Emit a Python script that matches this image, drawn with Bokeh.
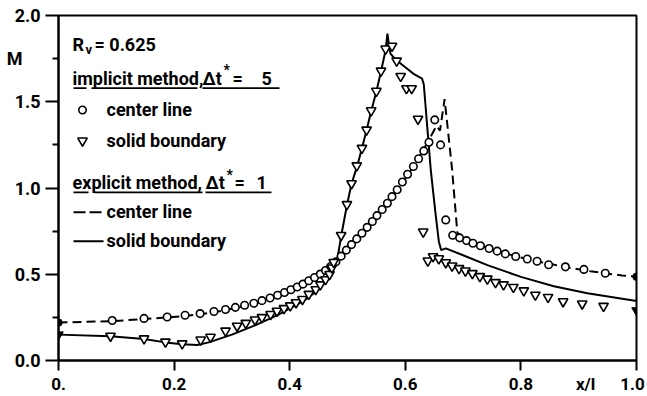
from bokeh.plotting import figure
from bokeh.models import Range1d, FixedTicker, Label, LinearAxis
from bokeh.embed import file_html
from bokeh.resources import INLINE

# ---------------- data ----------------
# implicit method, center line (circles)
ic_x = [0.093, 0.148, 0.188, 0.219, 0.245, 0.269, 0.289, 0.306, 0.322, 0.338, 0.352, 0.366,
        0.379, 0.391, 0.402, 0.413, 0.423, 0.433, 0.443, 0.453, 0.462, 0.471, 0.480, 0.489,
        0.498, 0.507, 0.516, 0.525, 0.534, 0.543, 0.551, 0.560, 0.569, 0.577, 0.586, 0.595,
        0.604, 0.614, 0.623, 0.632, 0.641, 0.651, 0.661, 0.670, 0.682, 0.694, 0.706, 0.717,
        0.730, 0.745, 0.759, 0.773, 0.791, 0.811, 0.828, 0.848, 0.877, 0.909, 0.946]
ic_y = [0.232, 0.244, 0.252, 0.262, 0.272, 0.284, 0.296, 0.308, 0.320, 0.332, 0.347, 0.362,
        0.378, 0.394, 0.410, 0.426, 0.443, 0.462, 0.481, 0.501, 0.522, 0.545, 0.572, 0.605,
        0.640, 0.672, 0.705, 0.738, 0.772, 0.806, 0.840, 0.875, 0.912, 0.950, 0.990, 1.035,
        1.080, 1.125, 1.170, 1.215, 1.265, 1.395, 1.250, 0.815, 0.726, 0.711, 0.695, 0.680,
        0.665, 0.649, 0.634, 0.618, 0.603, 0.588, 0.575, 0.555, 0.543, 0.528, 0.506]

# implicit method, solid boundary (triangles)
is_x = [0.090, 0.148, 0.185, 0.214, 0.246, 0.263, 0.289, 0.309, 0.324, 0.340, 0.352, 0.367,
        0.378, 0.390, 0.401, 0.411, 0.422, 0.433, 0.445, 0.453, 0.462, 0.469, 0.473, 0.476,
        0.489, 0.499, 0.507, 0.516, 0.525, 0.533, 0.541, 0.550, 0.558, 0.566, 0.577, 0.585,
        0.592, 0.602, 0.611, 0.622, 0.631, 0.639, 0.648, 0.658, 0.670, 0.681, 0.693, 0.704,
        0.716, 0.729, 0.742, 0.756, 0.770, 0.787, 0.805, 0.825, 0.847, 0.873, 0.906, 0.943]
is_y = [0.142, 0.127, 0.108, 0.098, 0.120, 0.136, 0.172, 0.200, 0.217, 0.236, 0.250, 0.268,
        0.287, 0.302, 0.318, 0.336, 0.355, 0.385, 0.412, 0.440, 0.470, 0.500, 0.538, 0.570,
        0.726, 0.905, 1.026, 1.130, 1.231, 1.337, 1.449, 1.562, 1.679, 1.807, 1.823, 1.737,
        1.648, 1.577, 1.577, 1.400, 0.746, 0.578, 0.603, 0.591, 0.568, 0.549, 0.534, 0.520,
        0.505, 0.488, 0.473, 0.453, 0.440, 0.425, 0.405, 0.380, 0.367, 0.342, 0.329, 0.315]

# explicit method, center line (dashed)
ec_x = [0.0, 0.093, 0.148, 0.188, 0.219, 0.245, 0.269, 0.289, 0.306, 0.322, 0.338, 0.352,
        0.366, 0.379, 0.391, 0.402, 0.413, 0.423, 0.433, 0.443, 0.453, 0.462, 0.471, 0.480,
        0.489, 0.498, 0.520, 0.540, 0.560, 0.580, 0.600, 0.620, 0.641, 0.654, 0.660, 0.668,
        0.681, 0.690, 0.700, 0.730, 0.760, 0.790, 0.830, 0.880, 0.920, 0.950, 0.975, 1.0]
ec_y = [0.220, 0.228, 0.240, 0.250, 0.258, 0.268, 0.280, 0.292, 0.304, 0.316, 0.328, 0.342,
        0.357, 0.373, 0.389, 0.405, 0.421, 0.438, 0.457, 0.476, 0.496, 0.517, 0.540, 0.567,
        0.600, 0.635, 0.720, 0.795, 0.872, 0.960, 1.055, 1.155, 1.280, 1.360, 1.333, 1.515,
        1.107, 0.742, 0.712, 0.668, 0.634, 0.605, 0.573, 0.540, 0.518, 0.503, 0.493, 0.486]

# explicit method, solid boundary (solid)
es_x = [0.0, 0.090, 0.148, 0.185, 0.214, 0.240, 0.260, 0.300, 0.341, 0.380, 0.424, 0.450,
        0.471, 0.482, 0.489, 0.499, 0.507, 0.517, 0.525, 0.533, 0.541, 0.550, 0.558, 0.566,
        0.569, 0.574, 0.583, 0.600, 0.615, 0.629, 0.632, 0.644, 0.652, 0.658, 0.662, 0.670,
        0.700, 0.742, 0.800, 0.857, 0.915, 1.0]
es_y = [0.150, 0.140, 0.125, 0.105, 0.094, 0.090, 0.105, 0.150, 0.205, 0.265, 0.345, 0.410,
        0.490, 0.580, 0.720, 0.900, 1.025, 1.130, 1.230, 1.335, 1.447, 1.560, 1.677, 1.800,
        1.895, 1.780, 1.745, 1.700, 1.660, 1.634, 1.600, 1.107, 0.860, 0.690, 0.640, 0.650,
        0.610, 0.553, 0.485, 0.430, 0.390, 0.345]

# boundary values (filled symbols)
bnd_x = [0.0, 1.0]
bnd_center_y = [0.220, 0.486]
bnd_solid_y = [0.150, 0.290]

x_ticks = [0.0, 0.2, 0.4, 0.6, 0.8, 1.0]
x_label_pos = [0.0, 0.2, 0.4, 0.6, 0.8, 0.993]   # last label nudged inside the window edge
x_tick_labels = ["0.", "0.2", "0.4", "0.6", "0.8", "1.0"]
x_title_pos = 0.912
x_title = "x/l"
y_ticks = [0.0, 0.5, 1.0, 1.5, 2.0]
y_tick_labels = ["0.0", "0.5", "1.0", "1.5", "2.0"]
y_minor = [0.25, 0.75, 1.25, 1.75]
y_title_pos = 1.75
y_title = "M"

FONT = "Roboto"
FS = "18px"

# ---------------- figure ----------------
p = figure(width=647, height=396, output_backend="svg", toolbar_location=None,
           x_range=Range1d(0, 1), y_range=Range1d(0, 2),
           min_border_left=58, min_border_right=11, min_border_top=15, min_border_bottom=34)
p.background_fill_color = "white"
p.border_fill_color = "white"
p.grid.visible = False
p.outline_line_color = "black"
p.outline_line_width = 2

# x axis: tick marks drawn as minor ticks, labels (incl. "x/l") as major labels
xa = p.xaxis[0]
xa.ticker = FixedTicker(ticks=x_label_pos + [x_title_pos], minor_ticks=x_ticks)
ovr = {t: l for t, l in zip(x_label_pos, x_tick_labels)}
ovr[x_title_pos] = x_title
xa.major_label_overrides = ovr
xa.major_tick_line_color = None
xa.major_tick_out = 9
xa.major_tick_in = 0
xa.minor_tick_out = 10
xa.minor_tick_in = 0
xa.minor_tick_line_width = 2
xa.minor_tick_line_color = "black"
xa.major_label_standoff = 3

# inner y axis: tick marks only
ya = p.yaxis[0]
ya.ticker = FixedTicker(ticks=y_ticks, minor_ticks=y_minor)
ya.major_label_overrides = {t: "" for t in y_ticks}
ya.major_label_standoff = 0
ya.major_tick_out = 13
ya.major_tick_in = 0
ya.minor_tick_out = 6
ya.minor_tick_in = 0
ya.major_tick_line_width = 2
ya.minor_tick_line_width = 2

# outer y axis: labels only (incl. "M")
ya2 = LinearAxis(ticker=FixedTicker(ticks=y_ticks + [y_title_pos], minor_ticks=[]))
yovr = {t: l for t, l in zip(y_ticks, y_tick_labels)}
yovr[y_title_pos] = y_title + "\u00a0\u00a0\u00a0\u00a0"
ya2.major_label_overrides = yovr
ya2.axis_line_color = None
ya2.major_tick_line_color = None
ya2.major_tick_out = 0
ya2.major_tick_in = 0
ya2.minor_tick_line_color = None
ya2.major_label_standoff = 5
p.add_layout(ya2, "left")

for ax in (xa, ya, ya2):
    ax.axis_line_width = 2
    ax.major_label_text_font = FONT
    ax.major_label_text_font_style = "bold"
    ax.major_label_text_color = "black"
    ax.major_label_text_font_size = FS
xa.major_label_text_font_size = "17px"
xa.axis_line_color = "black"
ya.axis_line_color = "black"

# ---------------- data marks ----------------
p.line(ec_x, ec_y, line_color="black", line_width=2, line_dash="9 5")
p.line(es_x, es_y, line_color="black", line_width=2)
p.scatter(ic_x, ic_y, marker="circle", size=7.5, fill_color="white", line_color="black", line_width=1.6)
p.scatter(is_x, is_y, marker="inverted_triangle", size=9.5, fill_color="white", line_color="black", line_width=1.6)
p.scatter(bnd_x, bnd_center_y, marker="circle", size=7.5, fill_color="black", line_color="black")
p.scatter(bnd_x, bnd_solid_y, marker="inverted_triangle", size=9.5, fill_color="black", line_color="black")

# ---------------- annotation texts ----------------
def dx(px):
    return (px - 58) / 578.0

def dy(py):
    return (362 - py) / 173.5

def lab(txt, px, py, size=FS):
    p.add_layout(Label(x=dx(px), y=dy(py), text=txt, text_font=FONT, text_font_size=size,
                       text_font_style="bold", text_align="left", text_baseline="middle",
                       text_color="black"))

lab("R", 72, 44)
lab("v", 85, 49, size="13px")
lab("= 0.625", 94, 44)

lab("implicit method,", 72, 78)
lab("\u0394t", 202, 78)
lab("*", 223, 70, size="14px")
lab("=", 232, 78)
lab("5", 261, 78)
p.segment(x0=[dx(73), dx(91), dx(202)], y0=[dy(88)] * 3, x1=[dx(86), dx(197), dx(279)], y1=[dy(88)] * 3,
          line_color="black", line_width=1.8)

p.scatter([dx(82)], [dy(110)], marker="circle", size=7.5, fill_color="white", line_color="black", line_width=1.6)
lab("center line", 106, 110)
p.scatter([dx(82)], [dy(141)], marker="inverted_triangle", size=9.5, fill_color="white", line_color="black", line_width=1.6)
lab("solid boundary", 106, 141)

lab("explicit method,", 72, 183)
lab("\u0394t", 205, 183)
lab("*", 226, 175, size="14px")
lab("=", 234, 183)
lab("1", 256, 183)
p.segment(x0=[dx(73), dx(94), dx(205)], y0=[dy(193)] * 3, x1=[dx(88), dx(202), dx(271)], y1=[dy(193)] * 3,
          line_color="black", line_width=1.8)

p.segment(x0=[dx(73)], y0=[dy(213)], x1=[dx(102)], y1=[dy(213)], line_color="black", line_width=2, line_dash="12 4")
lab("center line", 106, 212)
p.segment(x0=[dx(73)], y0=[dy(242)], x1=[dx(103)], y1=[dy(242)], line_color="black", line_width=2)
lab("solid boundary", 106, 241)

open("out.html", "w").write(file_html(p, INLINE))
